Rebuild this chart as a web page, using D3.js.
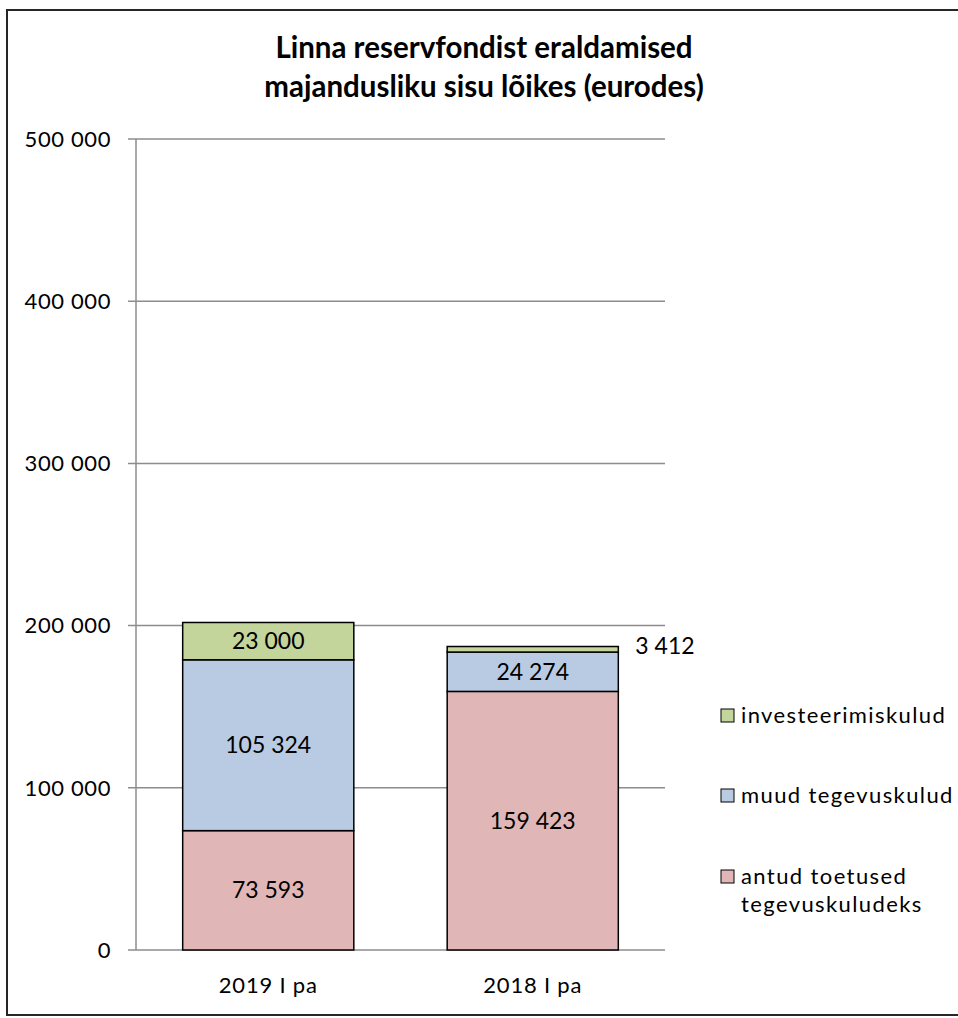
<!DOCTYPE html>
<html><head><meta charset="utf-8">
<script src="https://cdn.jsdelivr.net/npm/d3@7/dist/d3.min.js"></script>
<style>body{margin:0;background:#fff}svg{display:block}text{font-family:Lato,"Open Sans",sans-serif;fill:#000}</style>
</head><body><svg id="c" width="958" height="1018"></svg>
<script>
const categories = ["2019 I pa", "2018 I pa"];
const seriesNames = ["antud toetused tegevuskuludeks", "muud tegevuskulud", "investeerimiskulud"];
const toetused = [73593, 159423];
const muud = [105324, 24274];
const invest = [23000, 3412];
const yTicks = [0, 100000, 200000, 300000, 400000, 500000];
const colors = ["#e0b7b6", "#b9cbe3", "#c3d59b"];
const legendOrder = [2, 1, 0];

(function(){
const svg = d3.select("#c");
svg.append("rect").attr("x",7).attr("y",10).attr("width",970).attr("height",1005)
  .attr("fill","#fff").attr("stroke","#262626").attr("stroke-width",2);

const pL=136, pR=665, pT=139, pB=950;
const x = d3.scaleBand().domain(categories).range([pL,pR]).paddingInner(0.353).paddingOuter(0.1765);
const y = d3.scaleLinear().domain([0,500000]).range([pB,pT]);
const fmt = v => d3.format(",")(v).replace(/,/g," ");

svg.append("g").selectAll("line").data(yTicks).join("line")
  .attr("x1",128).attr("x2",pR).attr("y1",d=>y(d)).attr("y2",d=>y(d))
  .attr("stroke","#8c8c8c").attr("stroke-width",1.5);
svg.append("line").attr("x1",pL).attr("x2",pL).attr("y1",pT).attr("y2",pB)
  .attr("stroke","#8c8c8c").attr("stroke-width",1.5);
svg.append("g").selectAll("text").data(yTicks).join("text")
  .attr("x",111).attr("y",d=>y(d)).attr("dy","0.35em").attr("text-anchor","end")
  .attr("font-size",22).attr("letter-spacing",0.6).text(d=>fmt(d));

const rows = categories.map((c,i)=>({cat:c, s0:toetused[i], s1:muud[i], s2:invest[i]}));
const stack = d3.stack().keys(["s0","s1","s2"])(rows);
const g = svg.append("g");
stack.forEach((layer,k)=>{
  layer.forEach((d,i)=>{
    const x0=x(d.data.cat), w=x.bandwidth();
    g.append("rect").attr("x",x0).attr("y",y(d[1])).attr("width",w).attr("height",y(d[0])-y(d[1]))
      .attr("fill",colors[k]).attr("stroke","#000").attr("stroke-width",1.5);
    const v=d[1]-d[0];
    const h=y(d[0])-y(d[1]);
    if(h>20){
      g.append("text").attr("x",x0+w/2).attr("y",(y(d[0])+y(d[1]))/2).attr("dy","0.35em")
        .attr("text-anchor","middle").attr("font-size",23).text(fmt(v));
    } else {
      g.append("text").attr("x",x0+w+17).attr("y",y(d[1])-1).attr("dy","0.35em")
        .attr("text-anchor","start").attr("font-size",23).text(fmt(v));
    }
  });
});

svg.append("g").selectAll("text").data(categories).join("text")
  .attr("x",d=>x(d)+x.bandwidth()/2).attr("y",985).attr("dy","0.35em")
  .attr("text-anchor","middle").attr("font-size",22).attr("letter-spacing",0.8).text(d=>d);

const title = svg.append("text").attr("x",482).attr("text-anchor","middle").attr("font-size",29.5).attr("font-weight","bold");
title.append("tspan").attr("x",484).attr("y",58).text("Linna reservfondist eraldamised");
title.append("tspan").attr("x",484).attr("y",97).text("majandusliku sisu lõikes (eurodes)");

const legY=[715,795,876];
legendOrder.forEach((k,j)=>{
  svg.append("rect").attr("x",721).attr("y",legY[j]-6).attr("width",13).attr("height",13)
    .attr("fill",colors[k]).attr("stroke","#000").attr("stroke-width",1);
  const words = k===0 ? ["antud toetused","tegevuskuludeks"] : [seriesNames[k]];
  const t = svg.append("text").attr("font-size",22).attr("letter-spacing",1.4);
  words.forEach((w,m)=>t.append("tspan").attr("x",741).attr("y",legY[j]+m*28).attr("dy","0.35em").text(w));
});
})();
</script></body></html>
